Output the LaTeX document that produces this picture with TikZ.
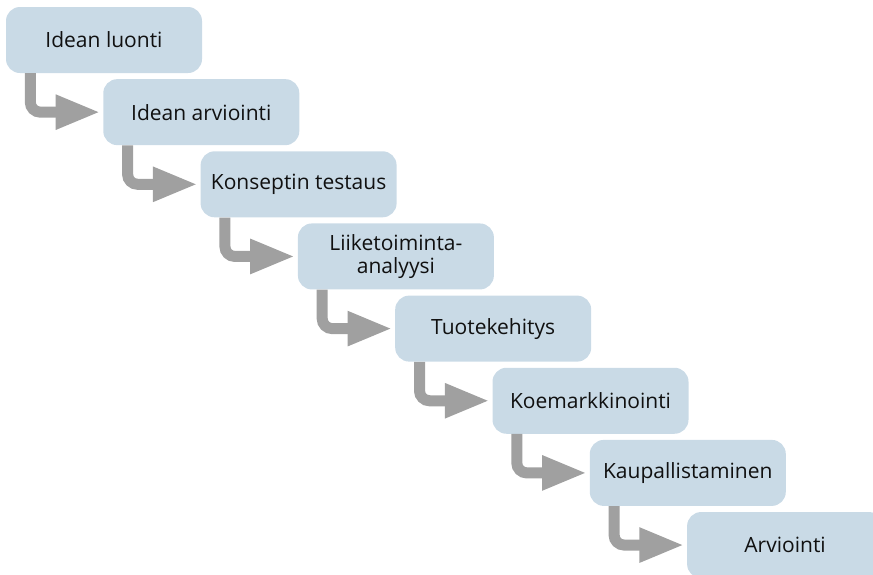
\documentclass[tikz,border=0pt]{standalone}
\usepackage{fontspec}
\setmainfont{Open Sans}
\usetikzlibrary{arrows.meta}
\definecolor{stepfill}{HTML}{C9DAE6}
\definecolor{flowgray}{HTML}{A0A0A0}
\definecolor{steptext}{HTML}{101010}
\begin{document}
\begin{tikzpicture}[x=1pt,y=1pt,
  stepbox/.style={fill=stepfill, rounded corners=14pt, minimum width=196pt,
    minimum height=66pt, inner sep=0pt, align=center, text=steptext,
    font=\fontsize{21}{23}\selectfont},
  flow/.style={draw=flowgray, line width=11pt, rounded corners=10pt,
    -{Triangle[length=45pt,width=32pt]}}]
\useasboundingbox (0,0) rectangle (873,-574);
\clip (0,0) rectangle (873,-574);
% process steps, each one shifted down and to the right
\node[stepbox] (b1) at (104.0,-40.0)   {Idean luonti};
\node[stepbox] (b2) at (201.3,-112.15) {Idean arviointi};
\node[stepbox] (b3) at (298.6,-184.3)  {Konseptin testaus};
\node[stepbox] (b4) at (395.9,-256.45) {Liiketoiminta-\\analyysi};
\node[stepbox] (b5) at (493.2,-328.6)  {Tuotekehitys};
\node[stepbox] (b6) at (590.5,-400.75) {Koemarkkinointi};
\node[stepbox] (b7) at (687.8,-472.9)  {Kaupallistaminen};
\node[stepbox] (b8) at (785.1,-545.05) {Arviointi};
% bent arrows from each step into the next
\foreach \a/\b in {b1/b2,b2/b3,b3/b4,b4/b5,b5/b6,b6/b7,b7/b8}{
  \draw[flow] ([xshift=24.5pt]\a.south west) |- ([xshift=-2.5pt]\b.west);
}
\end{tikzpicture}
\end{document}
